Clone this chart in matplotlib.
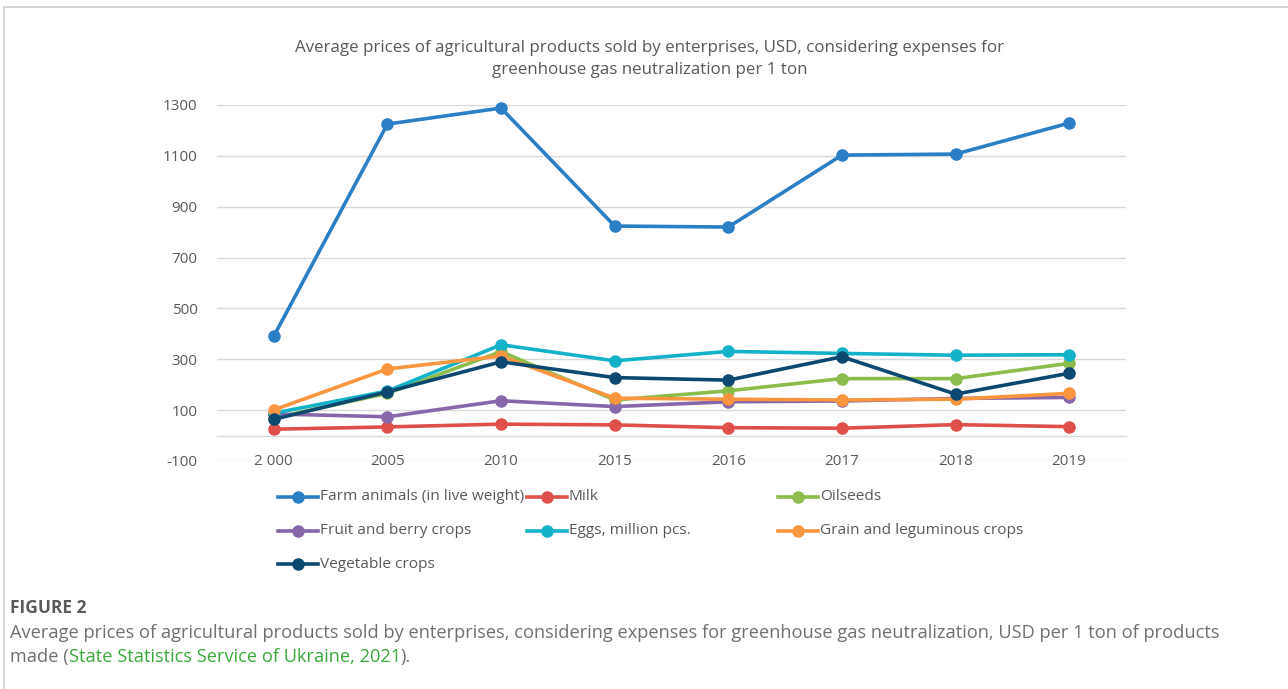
import numpy as np
import matplotlib
matplotlib.use('Agg')
import matplotlib.pyplot as plt
from matplotlib.lines import Line2D

plt.rcParams['font.family'] = ['Open Sans', 'DejaVu Sans']

# Categories (x axis)
years = ['2 000', '2005', '2010', '2015', '2016', '2017', '2018', '2019']

# Series values, USD per 1 ton
farm_animals = [391, 1225, 1288, 824, 820, 1103, 1107, 1229]
milk = [25, 34, 45, 42, 31, 29, 43, 35]
oilseeds = [69, 166, 330, 140, 176, 224, 224, 284]
fruit_berry = [85, 74, 137, 114, 133, 136, 146, 150]
eggs = [88, 175, 357, 294, 331, 323, 316, 318]
grain = [101, 262, 313, 147, 143, 140, 143, 166]
vegetables = [64, 172, 290, 228, 218, 310, 163, 245]

series_names = ['Farm animals (in live weight)', 'Milk', 'Oilseeds',
                'Fruit and berry crops', 'Eggs, million pcs.',
                'Grain and leguminous crops', 'Vegetable crops']
series_values = [farm_animals, milk, oilseeds, fruit_berry, eggs, grain, vegetables]
colors = ['#2b7fc4', '#df504b', '#8cbd4c', '#8767a9', '#14b2c8', '#f9963f', '#0d4870']

yticks = [-100, 100, 300, 500, 700, 900, 1100, 1300]

title = ('Average prices of agricultural products sold by enterprises, USD, considering expenses for\n'
         'greenhouse gas neutralization per 1 ton')

fig = plt.figure(figsize=(12.88, 6.89), dpi=100)
W, H = 1288, 689

ax = fig.add_axes([217 / W, 1 - 461 / H, (1126 - 217) / W, (461 - 105) / H])
x = np.arange(len(years))

for name, vals, c in zip(series_names, series_values, colors):
    ax.plot(x, vals, color=c, lw=2.6, marker='o', ms=8, label=name,
            solid_capstyle='round', solid_joinstyle='round', clip_on=False)

ax.set_xlim(-0.5, len(years) - 0.5)
ax.set_ylim(-100, 1300)
ax.set_yticks(yticks)
ax.set_yticklabels([str(v) for v in yticks])
ax.set_xticks(x)
ax.set_xticklabels(years)
ax.grid(axis='y', color='#d9d9d9', lw=1)
ax.set_axisbelow(True)
for s in ['top', 'right', 'left']:
    ax.spines[s].set_visible(False)
ax.spines['bottom'].set_position(('data', 0))
ax.spines['bottom'].set_color('#d9d9d9')
ax.spines['bottom'].set_linewidth(1)
ax.tick_params(axis='both', length=0, labelsize=11, labelcolor='#595959')
ax.tick_params(axis='x', pad=13)
ax.tick_params(axis='y', pad=14)

fig.text(650 / W, 1 - 59 / H, title, ha='center', va='center', fontsize=12.2,
         color='#595959', linespacing=1.55)

# legend, laid out like the Excel one (3 equal columns)
col_x = [278, 527, 778]
row_y = [497, 531, 564]
for i, (name, c) in enumerate(zip(series_names, colors)):
    px = col_x[i % 3]
    py = row_y[i // 3]
    fy = 1 - py / H
    fig.add_artist(Line2D([px / W, (px + 40) / W], [fy, fy], color=c, lw=2.6,
                          transform=fig.transFigure))
    fig.add_artist(Line2D([(px + 20) / W], [fy], color=c, marker='o', ms=8,
                          transform=fig.transFigure))
    fig.text((px + 42) / W, fy, name, ha='left', va='center', fontsize=11.1,
             color='#595959')

# frame around the figure panel
fig.add_artist(Line2D([4 / W, 1], [1 - 7 / H, 1 - 7 / H], color='#d0d0d0', lw=1.2,
                      transform=fig.transFigure))
fig.add_artist(Line2D([4 / W, 4 / W], [0, 1 - 7 / H], color='#d0d0d0', lw=1.2,
                      transform=fig.transFigure))

# caption
fig.text(10 / W, 1 - 608 / H, 'FIGURE 2', ha='left', va='center', fontsize=12.5,
         fontweight='bold', color='#5a5a5a')
fig.text(10 / W, 1 - 633 / H,
         'Average prices of agricultural products sold by enterprises, considering expenses '
         'for greenhouse gas neutralization, USD per 1 ton of products',
         ha='left', va='center', fontsize=13.15, color='#707070')
t1 = fig.text(10 / W, 1 - 657 / H, 'made (', ha='left', va='center', fontsize=13.15,
              color='#707070')
t2 = ax.annotate('State Statistics Service of Ukraine, 2021', xy=(1, 0), xycoords=t1,
                 va='bottom', ha='left', fontsize=13.15, color='#3aa83a',
                 annotation_clip=False)
ax.annotate(').', xy=(1, 0), xycoords=t2, va='bottom', ha='left', fontsize=13.15,
            color='#707070', annotation_clip=False)

fig.savefig('out.png', dpi=100)
